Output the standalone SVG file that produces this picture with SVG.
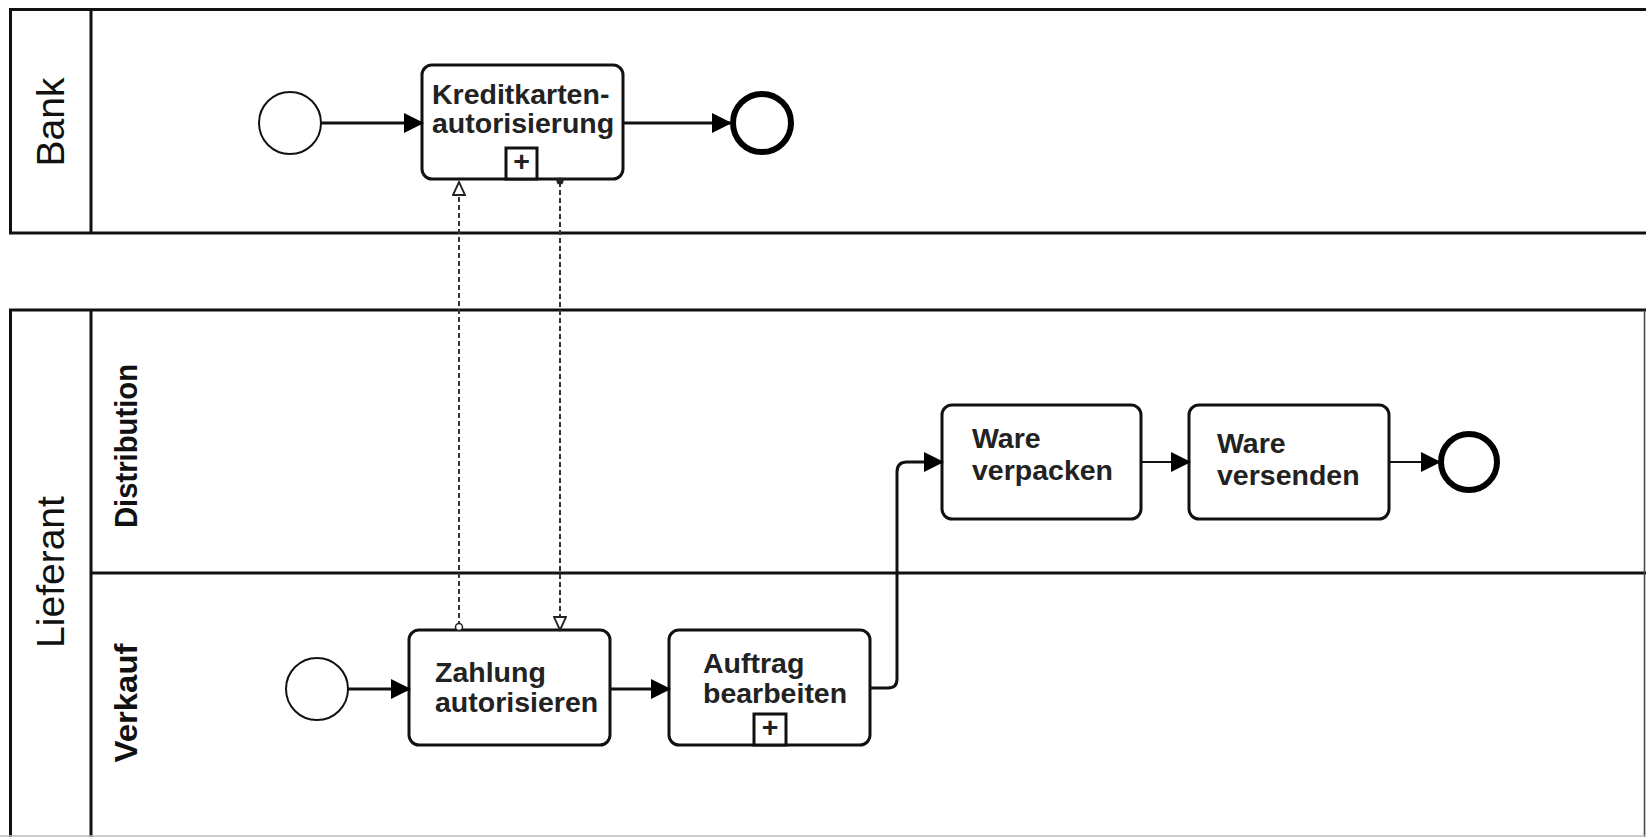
<svg xmlns="http://www.w3.org/2000/svg" width="1646" height="837" viewBox="0 0 1646 837">
<style>
.pool{fill:none;stroke:#111;stroke-width:3}
.task{fill:#fff;stroke:#111;stroke-width:3}
.start{fill:#fff;stroke:#111;stroke-width:2}
.end{fill:#fff;stroke:#000;stroke-width:6}
.plus{fill:#fff;stroke:#111;stroke-width:3}
.t{font-family:"Liberation Sans",Arial,sans-serif;font-weight:bold;font-size:28.5px;fill:#222}
.pl{font-family:"Liberation Sans",Arial,sans-serif;font-size:39px;fill:#111}
.ll{font-family:"Liberation Sans",Arial,sans-serif;font-weight:bold;font-size:31px;fill:#111}
.seq{fill:none;stroke:#111;stroke-width:3}
.msg{fill:none;stroke:#333;stroke-width:2;stroke-dasharray:5 3}
</style>
<defs>
<marker id="ah" markerWidth="20" markerHeight="20" refX="18" refY="10" orient="auto" markerUnits="userSpaceOnUse">
<path d="M0,0 L20,10 L0,20 Z" fill="#000"/>
</marker>
<marker id="mh" markerWidth="18" markerHeight="14" refX="14" refY="7" orient="auto" markerUnits="userSpaceOnUse">
<path d="M1,1 L14,7 L1,13 Z" fill="#fff" stroke="#222" stroke-width="1.8"/>
</marker>
</defs>
<rect width="1646" height="837" fill="#fff"/>
<g id="pool-bank">
<rect class="pool" x="10.5" y="9.5" width="1640" height="223.5"/>
<line class="pool" x1="91" y1="9.5" x2="91" y2="233"/>
<text class="pl" transform="translate(64,122) rotate(-90)" text-anchor="middle">Bank</text>
</g>
<g id="pool-lieferant">
<path class="pool" d="M1650,310 H10.5 V840"/>
<line class="pool" x1="91" y1="310" x2="91" y2="840"/>
<line class="pool" x1="91" y1="573" x2="1650" y2="573"/>
<line x1="1644.5" y1="310" x2="1644.5" y2="837" stroke="#444" stroke-width="1.5"/>
<line x1="0" y1="836" x2="1646" y2="836" stroke="#bbb" stroke-width="1.5"/>
<text class="pl" transform="translate(64,572) rotate(-90)" text-anchor="middle">Lieferant</text>
</g>
<g id="lane-distribution">
<text class="ll" transform="translate(137,446) rotate(-90)" text-anchor="middle" textLength="164" lengthAdjust="spacingAndGlyphs">Distribution</text>
</g>
<g id="lane-verkauf">
<text class="ll" transform="translate(137,703) rotate(-90)" text-anchor="middle" textLength="119" lengthAdjust="spacingAndGlyphs">Verkauf</text>
</g>
<g id="bank-start"><circle class="start" cx="290" cy="123" r="31"/></g>
<g id="kreditkarten">
<rect class="task" x="422" y="65" width="201" height="114" rx="10"/>
<rect class="plus" x="506" y="148" width="31" height="31"/>
<text class="t" x="521.5" y="171" text-anchor="middle" font-size="22">+</text>
<text class="t" x="432" y="104">Kreditkarten-</text>
<text class="t" x="432" y="133">autorisierung</text>
</g>
<g id="bank-end"><circle class="end" cx="762" cy="123" r="29"/></g>
<g id="ware-verpacken">
<rect class="task" x="942" y="405" width="199" height="114" rx="10"/>
<text class="t" x="972" y="448">Ware</text>
<text class="t" x="972" y="480">verpacken</text>
</g>
<g id="ware-versenden">
<rect class="task" x="1189" y="405" width="200" height="114" rx="10"/>
<text class="t" x="1217" y="453">Ware</text>
<text class="t" x="1217" y="485">versenden</text>
</g>
<g id="dist-end"><circle class="end" cx="1469" cy="462" r="28"/></g>
<g id="verkauf-start"><circle class="start" cx="317" cy="689" r="31"/></g>
<g id="zahlung">
<rect class="task" x="409" y="630" width="201" height="115" rx="10"/>
<text class="t" x="435" y="682">Zahlung</text>
<text class="t" x="435" y="712">autorisieren</text>
</g>
<g id="auftrag">
<rect class="task" x="669" y="630" width="201" height="115" rx="10"/>
<rect class="plus" x="754" y="714" width="32" height="31"/>
<text class="t" x="770" y="737" text-anchor="middle" font-size="22">+</text>
<text class="t" x="703" y="673">Auftrag</text>
<text class="t" x="703" y="703">bearbeiten</text>
</g>
<g id="connectors">
<line class="seq" x1="321" y1="123" x2="422" y2="123" marker-end="url(#ah)"/>
<line class="seq" x1="623" y1="123" x2="730" y2="123" marker-end="url(#ah)"/>
<line class="seq" x1="348" y1="689" x2="409" y2="689" marker-end="url(#ah)"/>
<line class="seq" x1="610" y1="689" x2="669" y2="689" marker-end="url(#ah)"/>
<path class="seq" d="M870,688 H888 Q897,688 897,679 V472 Q897,462 907,462 H942" marker-end="url(#ah)"/>
<line class="seq" x1="1141" y1="462" x2="1189" y2="462" marker-end="url(#ah)" style="stroke-width:2"/>
<line class="seq" x1="1389" y1="462" x2="1439" y2="462" marker-end="url(#ah)" style="stroke-width:2"/>
<path class="msg" d="M459,626 V182" marker-end="url(#mh)"/>
<circle cx="459" cy="627" r="3.5" fill="#fff" stroke="#222" stroke-width="1.5"/>
<path class="msg" d="M560,182 V630" marker-end="url(#mh)"/>
<circle cx="560" cy="181" r="3.5" fill="#222"/>
</g>
</svg>
